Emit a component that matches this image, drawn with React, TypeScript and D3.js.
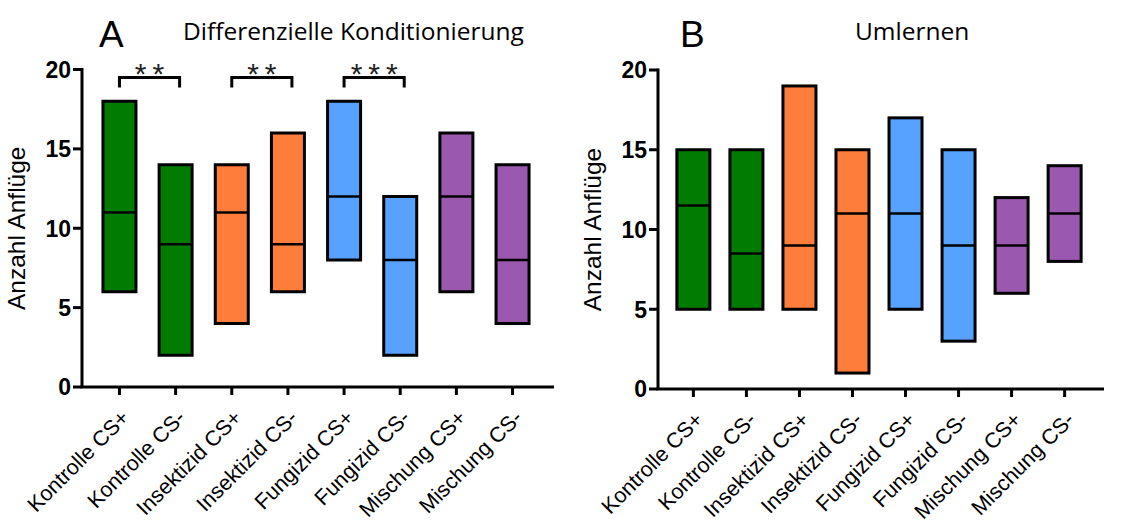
import React from "react";
import * as d3 from "d3";

const categories = [
  "Kontrolle CS+", "Kontrolle CS-", "Insektizid CS+", "Insektizid CS-",
  "Fungizid CS+", "Fungizid CS-", "Mischung CS+", "Mischung CS-",
];
const boxColors = ["#017c01", "#017c01", "#fe7d3a", "#fe7d3a", "#56a2fe", "#56a2fe", "#9a58af", "#9a58af"];

// Panel A: Differenzielle Konditionierung
const aLow = [6, 2, 4, 6, 8, 2, 6, 4];
const aHigh = [18, 14, 14, 16, 18, 12, 16, 14];
const aMedian = [11, 9, 11, 9, 12, 8, 12, 8];
const aSignif: [number, number, string][] = [[0, 1, "**"], [2, 3, "**"], [4, 5, "***"]];

// Panel B: Umlernen
const bLow = [5, 5, 5, 1, 5, 3, 6, 8];
const bHigh = [15, 15, 19, 15, 17, 15, 12, 14];
const bMedian = [11.5, 8.5, 9, 11, 11, 9, 9, 11];

const yTicks = [0, 5, 10, 15, 20];

type PanelProps = {
  letter: string; title: string; titleX: number; letterX: number;
  x0: number; x1: number; yTop: number; yBottom: number;
  low: number[]; high: number[]; median: number[];
  signif?: [number, number, string][];
};

const axisFont = "Arial, 'Liberation Sans', sans-serif";

function Panel(p: PanelProps) {
  const x = d3.scalePoint<string>().domain(categories).range([p.x0, p.x1]).padding(0.667);
  const y = d3.scaleLinear().domain([0, 20]).range([p.yBottom, p.yTop]);
  const boxW = 33;
  return (
    <g>
      <text x={p.letterX} y={47} fontFamily={axisFont} fontSize={37}>{p.letter}</text>
      <text x={p.titleX} y={40} fontFamily="'Open Sans', sans-serif" fontSize={24.5}>{p.title}</text>
      {/* y label */}
      <text transform={`translate(${p.x0 - 57},${(p.yTop + p.yBottom) / 2}) rotate(-90)`}
        textAnchor="middle" fontFamily={axisFont} fontSize={24.5}>Anzahl Anflüge</text>
      {/* boxes */}
      {categories.map((c, i) => {
        const cx = x(c)!;
        return (
          <g key={c}>
            <rect x={cx - boxW / 2} y={y(p.high[i])} width={boxW} height={y(p.low[i]) - y(p.high[i])}
              fill={boxColors[i]} stroke="#000" strokeWidth={3} />
            <line x1={cx - boxW / 2} x2={cx + boxW / 2} y1={y(p.median[i])} y2={y(p.median[i])}
              stroke="#000" strokeWidth={2.5} />
          </g>
        );
      })}
      {/* y axis */}
      <line x1={p.x0} x2={p.x0} y1={y(20) - 1.5} y2={y(0)} stroke="#000" strokeWidth={3} />
      {yTicks.map(t => (
        <g key={t}>
          <line x1={p.x0 - 9} x2={p.x0} y1={y(t)} y2={y(t)} stroke="#000" strokeWidth={3} />
          <text x={p.x0 - 11} y={y(t)} dy="0.36em" textAnchor="end" fontFamily={axisFont}
            fontWeight="bold" fontSize={23}>{t}</text>
        </g>
      ))}
      {/* x axis */}
      <line x1={p.x0 - 1.5} x2={p.x1 + 4} y1={y(0)} y2={y(0)} stroke="#000" strokeWidth={3} />
      {categories.map(c => (
        <g key={c}>
          <line x1={x(c)} x2={x(c)} y1={y(0)} y2={y(0) + 8} stroke="#000" strokeWidth={3} />
          <text transform={`translate(${x(c)! + 11},${y(0) + 32}) rotate(-45)`} textAnchor="end"
            fontFamily={axisFont} fontSize={21.5}>{c}</text>
        </g>
      ))}
      {/* significance brackets */}
      {(p.signif || []).map(([a, b, s]) => {
        const xa = x(categories[a])!;
        const xb = x(categories[b])! + 4;
        const yb = y(19.5);
        return (
          <g key={a}>
            <path d={`M${xa},${yb + 10}V${yb}H${xb}V${yb + 10}`} fill="none" stroke="#000" strokeWidth={3} />
            <text x={(xa + xb) / 2} dx={3} y={yb + 7} textAnchor="middle" fontFamily={axisFont}
              fontSize={30} letterSpacing={6} fill="#222">{s}</text>
          </g>
        );
      })}
    </g>
  );
}

export default function App() {
  return (
    <svg width={1129} height={530} style={{ position: "absolute", left: 0, top: 0, background: "#fff" }}>
      <Panel letter="A" title="Differenzielle Konditionierung" letterX={99} titleX={183}
        x0={82} x1={550} yTop={69.5} yBottom={387}
        low={aLow} high={aHigh} median={aMedian} signif={aSignif} />
      <Panel letter="B" title="Umlernen" letterX={680} titleX={855}
        x0={658} x1={1100} yTop={70} yBottom={389}
        low={bLow} high={bHigh} median={bMedian} />
    </svg>
  );
}
